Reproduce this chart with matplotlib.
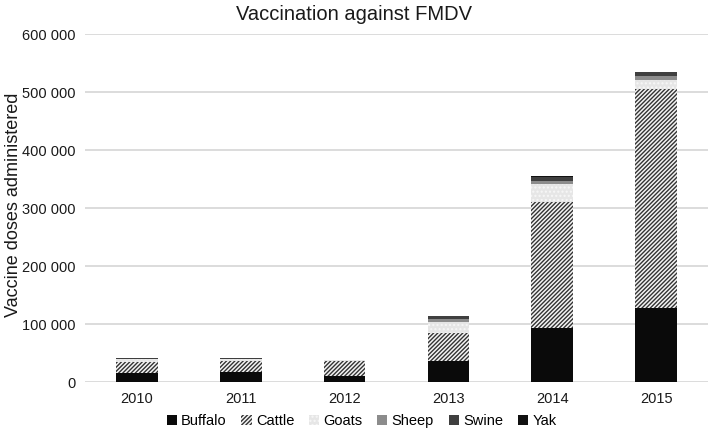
import matplotlib
matplotlib.use('Agg')
import matplotlib.pyplot as plt
import numpy as np
from matplotlib.ticker import FuncFormatter

plt.rcParams['font.family'] = ['Liberation Sans', 'DejaVu Sans']
plt.rcParams['hatch.linewidth'] = 1.0

years = ['2010', '2011', '2012', '2013', '2014', '2015']
buffalo = [15000, 17000, 11000, 36000, 93000, 128000]
cattle = [20000, 19000, 26000, 48000, 218000, 377000]
goats = [4000, 3500, 500, 20000, 30000, 16000]
sheep = [500, 500, 300, 5000, 6000, 6000]
swine = [1500, 1500, 500, 4500, 6000, 7000]
yak = [200, 200, 100, 1000, 1500, 1000]

series = [
    ('Buffalo', buffalo, dict(color='#0a0a0a')),
    ('Cattle', cattle, dict(facecolor='#f4f4f4', edgecolor='#333333', hatch='////////')),
    ('Goats', goats, dict(facecolor='#e6e6e6', edgecolor='#f7f7f7', hatch='....')),
    ('Sheep', sheep, dict(color='#8c8c8c')),
    ('Swine', swine, dict(color='#3f3f3f')),
    ('Yak', yak, dict(color='#111111')),
]

fig = plt.figure(figsize=(7.09, 4.30), dpi=100)
ax = fig.add_axes([85/709, 1-382/430, 623/709, 348/430])

x = np.arange(len(years))
bottom = np.zeros(len(years))
for name, vals, style in series:
    ax.bar(x, vals, 0.4, bottom=bottom, label=name, linewidth=0, **style)
    bottom += np.array(vals)

ax.set_xlim(-0.5, len(years) - 0.5)
ax.set_ylim(0, 600000)
ax.set_yticks(np.arange(0, 600001, 100000))
ax.yaxis.set_major_formatter(FuncFormatter(lambda v, p: f'{int(v):,}'.replace(',', ' ')))
ax.set_xticks(x)
ax.set_xticklabels(years)
ax.tick_params(length=0, labelsize=10.5, colors='#1a1a1a', pad=7)
ax.grid(axis='y', color='#d9d9d9', linewidth=1.3)
ax.set_axisbelow(True)
for s in ax.spines.values():
    s.set_visible(False)

fig.text(14/709, 1-205/430, 'Vaccine doses administered', rotation=90, ha='center',
         va='center', fontsize=13, color='#1a1a1a')
fig.text(0.5, 1-14/430, 'Vaccination against FMDV', ha='center', va='center',
         fontsize=14.5, color='#1a1a1a')

fig.legend(loc='center', bbox_to_anchor=(0.51, 1-421/430), ncol=6, frameon=False,
           fontsize=10.5, handlelength=0.7, handleheight=0.7, handletextpad=0.3,
           columnspacing=1.0)

fig.savefig('out.png', dpi=100)
